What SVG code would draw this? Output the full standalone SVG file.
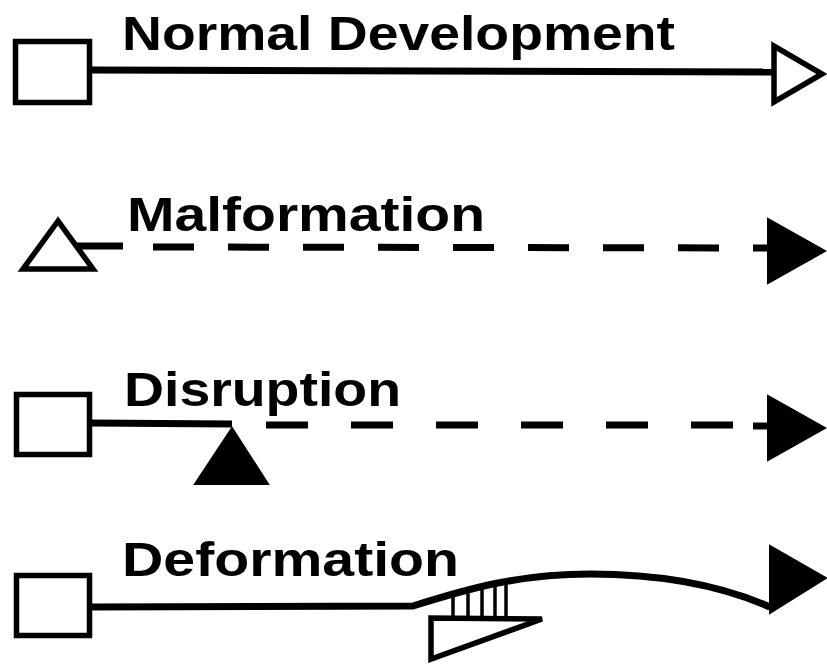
<svg xmlns="http://www.w3.org/2000/svg" width="827" height="664" viewBox="0 0 827 664">
<style>
.lbl{font-family:"Liberation Sans",Arial,sans-serif;font-weight:bold;font-size:48px;fill:#000}
.box{fill:#fff;stroke:#000;stroke-width:5.5}
.open{fill:#fff;stroke:#000;stroke-width:5.5;stroke-linejoin:miter}
.solid{fill:#000;stroke:#000;stroke-width:2;stroke-linejoin:miter}
.ln{fill:none;stroke:#000;stroke-width:7}
.dash2{stroke-dasharray:41 34}
.dash3{stroke-dasharray:42 43}
</style>
<rect width="827" height="664" fill="#fff"/>
<g id="connectors">
<line class="ln" x1="90" y1="70" x2="774" y2="72"/>
<line class="ln" x1="76" y1="246" x2="123" y2="246"/>
<line class="ln dash2" x1="153" y1="247" x2="770" y2="248"/>
<line class="ln" x1="90" y1="423" x2="232" y2="424"/>
<line class="ln dash3" x1="266" y1="425" x2="737" y2="425"/>
<line class="ln" x1="753" y1="426" x2="770" y2="426"/>
<path class="ln" d="M90,607 L413,606 C470,588 520,574 590,574 C660,574 720,585 770,607"/>
<g stroke="#000" stroke-width="3.5">
<line x1="453" y1="595" x2="453" y2="617"/>
<line x1="468" y1="591" x2="468" y2="617"/>
<line x1="482" y1="587" x2="482" y2="617"/>
<line x1="495" y1="584" x2="495" y2="617"/>
<line x1="506" y1="582" x2="506" y2="617"/>
</g>
</g>
<g id="normal">
<rect class="box" x="15.5" y="41.5" width="74" height="61"/>
<text class="lbl" x="122" y="50" textLength="553" lengthAdjust="spacingAndGlyphs">Normal Development</text>
<polygon class="open" points="774,46 774,102 822,74"/>
</g>
<g id="malformation">
<polygon class="open" points="58,221 23,269 93,269"/>
<text class="lbl" x="127" y="231" textLength="358" lengthAdjust="spacingAndGlyphs">Malformation</text>
<polygon class="solid" points="768,219 768,283 825,251"/>
</g>
<g id="disruption">
<rect class="box" x="16.5" y="394.5" width="73" height="60"/>
<text class="lbl" x="124" y="406" textLength="277" lengthAdjust="spacingAndGlyphs">Disruption</text>
<polygon class="solid" points="232,428 195,484 268,484"/>
<polygon class="solid" points="768,396 768,460 825,428"/>
</g>
<g id="deformation">
<rect class="box" x="16.5" y="575.5" width="73" height="60"/>
<text class="lbl" x="122" y="576" textLength="337" lengthAdjust="spacingAndGlyphs">Deformation</text>
<polygon class="open" points="431,618 431,659 542,619"/>
<polygon class="solid" points="770,546 770,613 826,578"/>
</g>
</svg>
